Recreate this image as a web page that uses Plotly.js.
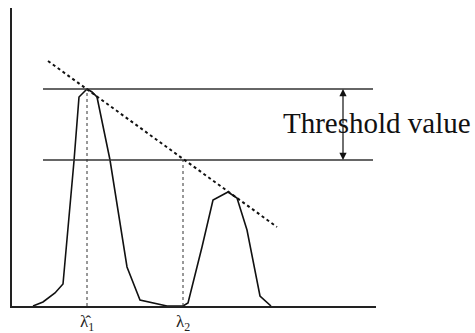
<!DOCTYPE html>
<html><head><meta charset="utf-8">
<script src="https://cdn.plot.ly/plotly-3.0.1.min.js"></script>
<style>html,body{margin:0;padding:0;background:#fff;}</style>
</head><body>
<div id="chart" style="width:475px;height:333px;"></div>
<script>
// Spectrum curve (wavelength units, intensity units)
const specX = [21, 31, 43, 51, 62, 67, 71, 75, 80, 85, 98, 115, 128, 155, 171, 176, 190, 201, 216, 225, 235, 248, 259];
const specY = [0, 4, 13, 22, 145, 209, 213, 217, 214, 209, 146, 39, 6, 0, 0, 3, 59, 106, 114, 108, 76, 10, 0];
// Threshold levels
const thrX = [31, 361];
const thrUpper = 217;
const thrLower = 146;
// Dotted tangent line
const tanX = [36, 265];
const tanY = [245, 79];
// Peak positions
const lambdaX = [75, 171];
const lambdaTop = [217, 146];
const lambdaLabels = ["λ̂<sub>1</sub>", "λ<sub>2</sub>"];
const thresholdLabel = "Threshold value";

const traces = [
  {x: specX, y: specY, mode: 'lines', line: {color: '#111', width: 1.6}, hoverinfo: 'skip'},
  {x: thrX, y: [thrUpper, thrUpper], mode: 'lines', line: {color: '#333', width: 1.6}},
  {x: thrX, y: [thrLower, thrLower], mode: 'lines', line: {color: '#333', width: 1.6}},
  {x: tanX, y: tanY, mode: 'lines', line: {color: '#111', width: 2, dash: 'dot'}},
  {x: [lambdaX[0], lambdaX[0]], y: [0, lambdaTop[0]], mode: 'lines', line: {color: '#333', width: 1, dash: 'dot'}},
  {x: [lambdaX[1], lambdaX[1]], y: [0, lambdaTop[1]], mode: 'lines', line: {color: '#333', width: 1, dash: 'dot'}}
];

const annotations = [
  {x: lambdaX[0], y: -0.057, xref: 'x', yref: 'paper', yanchor: 'middle', text: lambdaLabels[0], showarrow: false,
   font: {family: 'Liberation Serif, serif', size: 17, color: '#222'}},
  {x: lambdaX[1], y: -0.057, xref: 'x', yref: 'paper', yanchor: 'middle', text: lambdaLabels[1], showarrow: false,
   font: {family: 'Liberation Serif, serif', size: 17, color: '#222'}},
  {x: 1.0014, y: 183, xref: 'paper', yref: 'y', xanchor: 'center', text: thresholdLabel, showarrow: false,
   font: {family: 'Liberation Serif, serif', size: 29, color: '#111'}},
  {x: 331, y: thrUpper, ax: 331, ay: 181, axref: 'x', ayref: 'y', xref: 'x', yref: 'y', text: '',
   showarrow: true, arrowhead: 2, arrowsize: 1.2, arrowwidth: 1.2, arrowcolor: '#111'},
  {x: 331, y: thrLower, ax: 331, ay: 181, axref: 'x', ayref: 'y', xref: 'x', yref: 'y', text: '',
   showarrow: true, arrowhead: 2, arrowsize: 1.2, arrowwidth: 1.2, arrowcolor: '#111'}
];

const layout = {
  width: 475, height: 333,
  margin: {l: 12, r: 99, t: 8, b: 27},
  paper_bgcolor: '#fff', plot_bgcolor: '#fff',
  showlegend: false,
  xaxis: {range: [0, 364], showgrid: false, zeroline: false, showticklabels: false, ticks: '',
          showline: true, linecolor: '#222', linewidth: 1.6},
  yaxis: {range: [0, 298], showgrid: false, zeroline: false, showticklabels: false, ticks: '',
          showline: true, linecolor: '#222', linewidth: 1.6},
  annotations: annotations
};

Plotly.newPlot('chart', traces, layout, {displayModeBar: false, staticPlot: true});
</script>
</body></html>
